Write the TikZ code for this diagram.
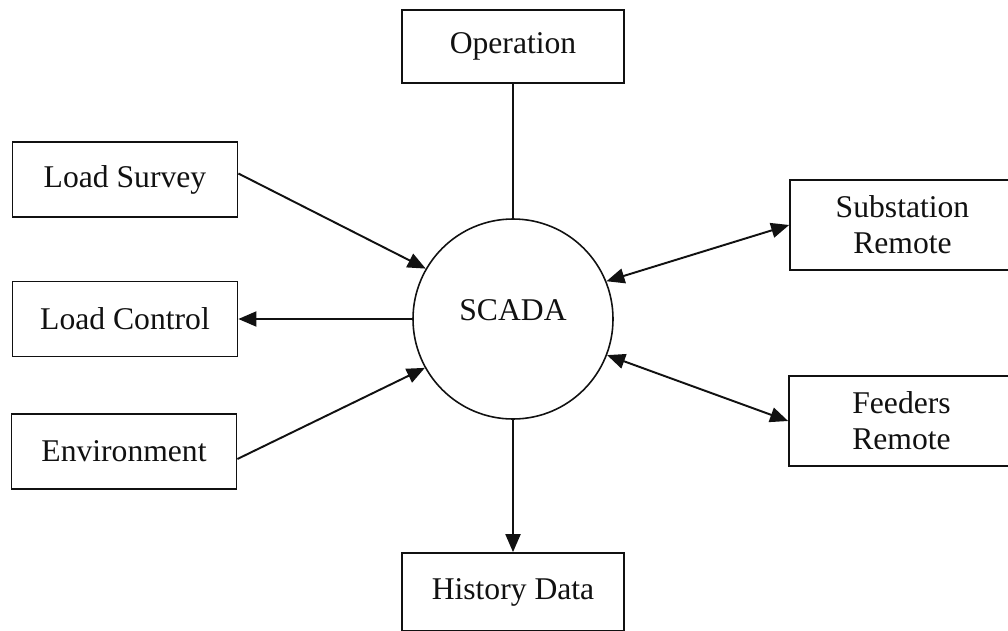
\documentclass[tikz,border=0pt]{standalone}
\usepackage{fontspec}
\setmainfont{Liberation Serif}
\usepackage{tikz}
\usetikzlibrary{arrows.meta}
\definecolor{SCInk}{HTML}{111111}

\begin{document}
\begin{tikzpicture}[x=1cm,y=1cm,
  >={Triangle[length=0.36cm,width=0.30cm]},
  every node/.style={font=\fontsize{18}{20.5}\selectfont,text=SCInk},
  unitbox/.style={draw=SCInk,line width=1pt,minimum width=4.5cm,minimum height=1.5cm,align=center,inner sep=0pt},
  remotebox/.style={unitbox,minimum height=1.8cm},
  hub/.style={draw=SCInk,line width=0.9pt,circle,minimum size=4cm,inner sep=0pt},
  link/.style={draw=SCInk,line width=1.1pt}]
\path[use as bounding box] (0,0) rectangle (20.16,12.60);
\fill[white] (0,0) rectangle (20.16,12.60);
\node[hub] (scada) at (10.26,6.22) {};
\node (scadatxt) at (10.26,6.40) {SCADA};
\node[unitbox,minimum width=4.44cm,minimum height=1.46cm] (op) at (10.26,11.67) {Operation};
\node[unitbox] (ls) at (2.50,9.01) {Load Survey};
\node[unitbox] (lc) at (2.50,6.22) {Load Control};
\node[unitbox] (env) at (2.48,3.57) {Environment};
\node[remotebox] (sub) at (18.05,8.10) {Substation\\Remote};
\node[remotebox] (fdr) at (18.03,4.18) {Feeders\\Remote};
\node[unitbox,minimum width=4.44cm,minimum height=1.56cm] (hist) at (10.26,0.76) {History Data};
\draw[link] (op.south) -- (scada.north);
\draw[link,->] ([yshift=0.12cm]ls.east) -- (scada.150);
\draw[link,->] (scada.west) -- (lc.east);
\draw[link,->] ([yshift=-0.15cm]env.east) -- (scada.209);
\draw[link,<->] (scada.22) -- (sub.west);
\draw[link,<->] (scada.339) -- (fdr.west);
\draw[link,->] (scada.south) -- (hist.north);
\end{tikzpicture}
\end{document}
